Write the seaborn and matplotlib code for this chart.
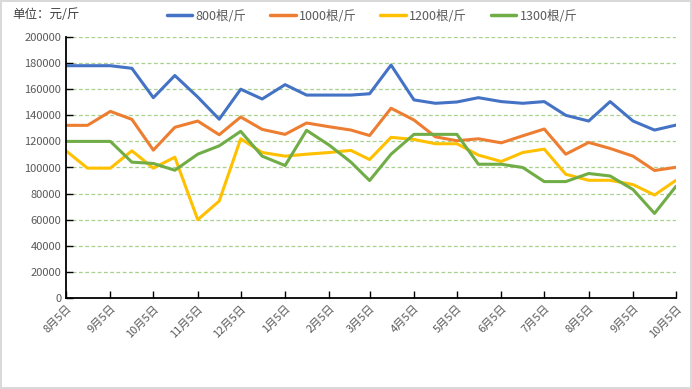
import pandas as pd
import matplotlib
matplotlib.use('Agg')
import matplotlib.pyplot as plt
import matplotlib.dates as mdates
import seaborn as sns

# --- data ---
dates = pd.to_datetime([
    '2018-08-05', '2018-08-20', '2018-09-05', '2018-09-20', '2018-10-05', '2018-10-20',
    '2018-11-05', '2018-11-20', '2018-12-05', '2018-12-20', '2019-01-05', '2019-01-20',
    '2019-02-05', '2019-02-20', '2019-03-05', '2019-03-20', '2019-04-05', '2019-04-20',
    '2019-05-05', '2019-05-20', '2019-06-05', '2019-06-20', '2019-07-05', '2019-07-20',
    '2019-08-05', '2019-08-20', '2019-09-05', '2019-09-20', '2019-10-05',
])
series_names = ['800根/斤', '1000根/斤', '1200根/斤', '1300根/斤']
price_800 = [178000, 178000, 178000, 176000, 153500, 170500, 154000, 137000, 160000, 152500,
             163500, 155500, 155500, 155500, 156500, 178500, 151800, 149200, 150200, 153500,
             150500, 149200, 150500, 140000, 135600, 150500, 135600, 128700, 132500]
price_1000 = [132300, 132300, 143000, 136900, 113300, 130800, 135600, 125100, 138700, 129200,
              125400, 134100, 131200, 128700, 124500, 145400, 136400, 123500, 120500, 122000,
              118900, 124300, 129500, 110200, 119200, 114600, 108700, 97700, 100200]
price_1200 = [112800, 99500, 99500, 112800, 99500, 107900, 60000, 74300, 122000, 111500,
              108700, 110200, 111500, 113100, 106100, 123100, 121500, 118200, 118200, 109500,
              104600, 111500, 114100, 94800, 90200, 90200, 86900, 78900, 90200]
price_1300 = [120000, 120000, 120000, 104100, 103100, 97900, 110200, 116600, 127700, 108700,
              101500, 128500, 117000, 104100, 90000, 110200, 125400, 125400, 125400, 102500,
              102500, 100000, 89200, 89200, 95400, 93500, 83100, 64800, 85600]
colors = ['#4472C4', '#ED7D31', '#FFC000', '#70AD47']

frames = []
for name, vals in zip(series_names, [price_800, price_1000, price_1200, price_1300]):
    frames.append(pd.DataFrame({'date': dates, 'price': vals, 'series': name}))
df = pd.concat(frames, ignore_index=True)

sns.set_theme(style='white')
plt.rcParams['font.family'] = ['Noto Sans CJK SC', 'DejaVu Sans']
plt.rcParams['axes.unicode_minus'] = False

fig = plt.figure(figsize=(6.92, 3.89), dpi=100)
fig.patch.set_edgecolor('#D9D9D9')
fig.patch.set_linewidth(1.5)
ax = fig.add_axes([66 / 692, 1 - 298 / 389, 610 / 692, 261 / 389])

sns.lineplot(data=df, x='date', y='price', hue='series', hue_order=series_names,
             palette=colors, linewidth=2.2, ax=ax, legend=False)

ax.set_ylim(0, 200000)
ax.set_yticks(range(0, 200001, 20000))
ax.set_xlim(dates[0], dates[-1])
ax.xaxis.set_major_locator(mdates.MonthLocator(bymonthday=5))
ax.xaxis.set_major_formatter(plt.FuncFormatter(
    lambda v, pos: f"{mdates.num2date(v).month}月{mdates.num2date(v).day}日"))
ax.grid(axis='y', color='#A9D18E', linestyle=(0, (3, 2)), linewidth=0.9)
ax.set_axisbelow(True)
ax.set_xlabel('')
ax.set_ylabel('')

for side in ['top', 'right']:
    ax.spines[side].set_visible(False)
for side in ['left', 'bottom']:
    ax.spines[side].set_color('black')
    ax.spines[side].set_linewidth(1.3)
ax.tick_params(axis='both', direction='in', length=5, width=1, color='black',
               labelsize=8, labelcolor='#595959', left=True, bottom=True)
ax.tick_params(axis='x', pad=4)
for lbl in ax.get_xticklabels():
    lbl.set_rotation(45)
    lbl.set_ha('right')
    lbl.set_rotation_mode('anchor')

fig.text(12 / 692, 1 - 15 / 389, '单位：元/斤', fontsize=9, color='#404040', va='center')

handles = [plt.Line2D([], [], color=c, linewidth=2.5) for c in colors]
fig.legend(handles, series_names, loc='center', bbox_to_anchor=(372 / 692, 1 - 16 / 389),
           ncol=4, frameon=False, fontsize=9, labelcolor='#595959',
           handlelength=2.05, handletextpad=0.25, columnspacing=1.9)

fig.savefig('out.png', dpi=100)
